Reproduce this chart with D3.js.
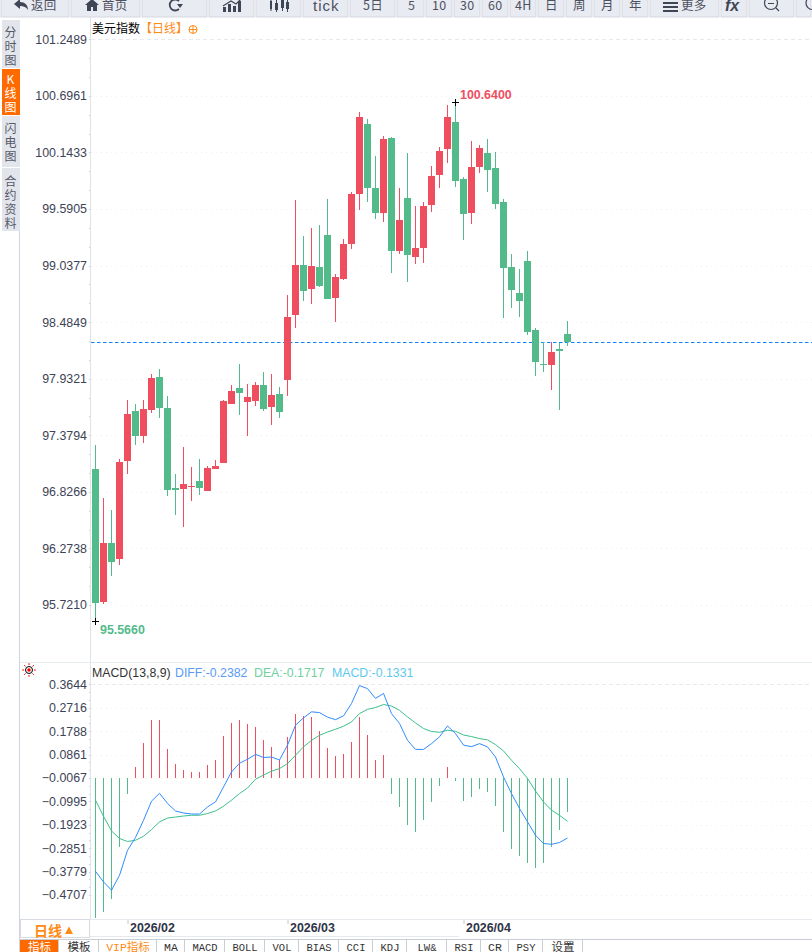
<!DOCTYPE html>
<html>
<head>
<meta charset="utf-8">
<script src="https://cdnjs.cloudflare.com/ajax/libs/d3/7.9.0/d3.min.js"></script>
<style>
  html, body { margin: 0; padding: 0; background: #fff; overflow: hidden; }
  text { font-family: "Liberation Sans", Arial, "Noto Sans CJK SC", sans-serif; }
  .cjk { font-family: "Noto Sans CJK SC", sans-serif; }
  .mono { font-family: "Liberation Mono", "Noto Sans CJK SC", monospace; }
  .side { font-family: "Noto Sans CJK SC", sans-serif; writing-mode: vertical-rl; text-orientation: upright; }
</style>
</head>
<body>
<div id="chart"></div>
<script>
// daily candles
const opens = [97.050,95.753,96.327,96.170,97.131,97.617,97.375,97.629,97.949,97.646,
  96.864,96.857,96.874,96.933,96.838,97.050,97.111,97.688,97.841,97.708,
  97.717,97.871,97.659,97.783,97.923,98.555,99.043,98.812,99.024,99.337,
  98.724,98.909,99.251,99.740,100.421,99.796,99.554,100.284,99.183,99.698,
  99.124,99.212,99.633,99.926,100.180,100.441,99.884,99.554,100.004,100.138,
  99.991,99.659,99.024,98.770,99.082,98.408,98.076,98.069,98.223,98.369];
const closes = [95.743,96.327,96.144,97.118,97.587,97.375,97.636,97.939,97.649,96.848,
  96.848,96.903,96.884,96.864,97.060,97.079,97.714,97.812,97.793,97.753,
  97.871,97.636,97.773,97.610,98.535,99.043,98.792,99.034,98.838,98.714,
  98.926,99.249,99.737,100.490,99.799,99.554,100.275,99.183,99.483,99.144,
  99.209,99.620,99.913,100.157,100.490,99.867,99.545,100.001,100.187,99.975,
  99.642,99.017,98.802,98.695,98.392,98.098,98.066,98.193,98.206,98.288];
const highs = [97.284,96.766,96.649,97.148,97.724,97.685,97.724,97.978,98.027,97.763,
  97.001,97.265,97.069,97.148,97.079,97.138,97.724,97.871,98.076,97.881,
  97.900,97.998,97.978,97.851,98.750,99.679,99.327,99.405,99.434,99.688,
  98.955,99.297,99.757,100.538,100.470,100.109,100.304,100.294,99.796,100.138,
  99.620,99.659,100.011,100.196,100.607,100.640,99.903,100.255,100.216,100.275,
  100.148,99.688,99.151,99.004,99.180,98.428,98.288,98.288,98.284,98.496];
const lows = [95.566,95.734,96.007,96.115,97.004,97.287,97.307,97.600,97.551,96.789,
  96.603,96.486,96.740,96.799,96.838,97.050,97.111,97.688,97.580,97.375,
  97.668,97.620,97.483,97.551,97.766,98.431,98.695,98.665,98.828,98.714,
  98.489,98.897,99.203,99.584,99.662,99.496,99.467,98.968,99.154,98.877,
  99.056,99.066,99.564,99.799,100.043,99.809,99.291,99.447,99.945,99.760,
  99.594,98.525,98.626,98.538,98.362,97.962,98.001,97.825,97.629,98.255];

// MACD panel series
const macdValues = [-0.556,-0.531,-0.480,-0.273,-0.063,0.042,0.138,0.229,0.229,0.114,
  0.054,0.031,0.023,0.023,0.050,0.070,0.165,0.217,0.229,0.213,
  0.201,0.149,0.122,0.070,0.161,0.252,0.245,0.241,0.185,0.118,
  0.086,0.094,0.141,0.241,0.169,0.070,0.090,-0.065,-0.115,-0.186,
  -0.214,-0.166,-0.095,-0.033,0.042,-0.012,-0.091,-0.075,-0.044,-0.055,
  -0.111,-0.214,-0.281,-0.309,-0.337,-0.357,-0.337,-0.273,-0.206,-0.1331];
const diffValues = [-0.370,-0.412,-0.445,-0.386,-0.287,-0.236,-0.168,-0.092,-0.061,-0.101,
  -0.131,-0.139,-0.143,-0.143,-0.115,-0.095,-0.036,0.024,0.058,0.074,
  0.093,0.081,0.083,0.071,0.130,0.209,0.238,0.262,0.259,0.241,
  0.231,0.246,0.295,0.366,0.354,0.315,0.335,0.255,0.216,0.149,
  0.113,0.113,0.136,0.163,0.206,0.176,0.130,0.124,0.136,0.123,
  0.083,0.004,-0.062,-0.121,-0.174,-0.227,-0.260,-0.263,-0.256,-0.2382];
const deaValues = [-0.088,-0.152,-0.210,-0.240,-0.252,-0.247,-0.231,-0.205,-0.174,-0.159,
  -0.155,-0.151,-0.148,-0.148,-0.141,-0.131,-0.112,-0.088,-0.062,-0.040,
  -0.005,0.011,0.027,0.037,0.057,0.090,0.123,0.149,0.169,0.182,
  0.193,0.205,0.222,0.255,0.272,0.279,0.291,0.285,0.268,0.242,
  0.218,0.196,0.184,0.181,0.189,0.185,0.170,0.164,0.156,0.151,
  0.132,0.107,0.070,0.037,-0.002,-0.052,-0.095,-0.128,-0.148,-0.1717];

const priceTicks = [101.2489,100.6961,100.1433,99.5905,99.0377,98.4849,97.9321,97.3794,96.8266,96.2738,95.7210];
const macdTicks = [0.3644,0.2716,0.1788,0.0861,-0.0067,-0.0995,-0.1923,-0.2851,-0.3779,-0.4707];
const monthStarts = [4, 24, 46];
const monthLabels = ['2026/02', '2026/03', '2026/04'];

const sideTabs = ['分时图','K线图','闪电图','合约资料'];
const bottomTabs = ['指标','模板','VIP指标','MA','MACD','BOLL','VOL','BIAS','CCI','KDJ','LW&','RSI','CR','PSY','设置'];

const width = 812, height = 952;
const red = '#ef4e5f', green = '#53bb8a';
const axisColor = '#3d4356';

const svg = d3.select('#chart').append('svg')
  .attr('width', width).attr('height', height)
  .style('display', 'block');

const x = d3.scaleLinear().domain([0, opens.length - 1]).range([95.5, 567.5]);
const y = d3.scaleLinear().domain([101.2489, 95.7210]).range([39.3, 605]);
const yMacd = d3.scaleLinear().domain([0.3644, -0.4707]).range([684.3, 895]);
// the vendor's axis labels sit one step of -0.0067 off the real zero line
const macdY = v => yMacd(v - 0.0067);

// ---- gridlines
function drawGrid(scale, ticks) {
  const g = svg.append('g');
  g.selectAll('line').data(ticks).join('line')
    .attr('x1', 91).attr('x2', width)
    .attr('y1', d => Math.round(scale(d)) + 0.5)
    .attr('y2', d => Math.round(scale(d)) + 0.5)
    .attr('stroke', (d, i) => i === 0 ? '#e8eaee' : '#eef0f2')
    .attr('stroke-dasharray', (d, i) => i === 0 ? '4,3' : '1,4');

  // small dots between labels along the axis
  const minor = [];
  for (let i = 0; i < ticks.length - 1; i++) {
    for (let j = 0; j < 3; j++) minor.push(ticks[i] + (ticks[i + 1] - ticks[i]) * j / 3);
  }
  minor.push(ticks[ticks.length - 1]);
  g.append('g').selectAll('rect').data(minor).join('rect')
    .attr('x', 89).attr('width', 1).attr('height', 1)
    .attr('y', d => Math.round(scale(d)))
    .attr('fill', '#c9ced6');
}
drawGrid(y, priceTicks);
drawGrid(yMacd, macdTicks);

// ---- frame lines
const frame = svg.append('g').attr('stroke', '#dfe3e8').attr('shape-rendering', 'crispEdges');
frame.append('line').attr('x1', 90.5).attr('x2', 90.5).attr('y1', 17).attr('y2', 919);
frame.append('line').attr('x1', 19.5).attr('x2', 19.5).attr('y1', 231).attr('y2', 952).attr('stroke', '#cfd5dc');
frame.append('line').attr('x1', 20).attr('x2', width).attr('y1', 662.5).attr('y2', 662.5).attr('stroke', '#e6ecee');
frame.append('line').attr('x1', 20).attr('x2', width).attr('y1', 919.5).attr('y2', 919.5).attr('stroke', '#e6e9ed');

// ---- price axis
const priceAxis = d3.axisLeft(y).tickValues(priceTicks).tickSize(0).tickPadding(0).tickFormat(d3.format('.4f'));
svg.append('g').attr('transform', 'translate(87,0)').call(priceAxis)
  .call(g => g.select('.domain').remove())
  .call(g => g.selectAll('text').attr('fill', axisColor).style('font-size', '12.4px')
    .style('font-family', '"Liberation Sans", Arial, sans-serif'));

const macdAxis = d3.axisLeft(yMacd).tickValues(macdTicks).tickSize(0).tickPadding(0).tickFormat(d3.format('.4f'));
svg.append('g').attr('transform', 'translate(87,0)').call(macdAxis)
  .call(g => g.select('.domain').remove())
  .call(g => g.selectAll('text').attr('fill', axisColor).style('font-size', '12.4px')
    .style('font-family', '"Liberation Sans", Arial, sans-serif'));

// ---- current price line
const lastClose = closes[closes.length - 1];
svg.append('line')
  .attr('x1', 91).attr('x2', width)
  .attr('y1', Math.round(y(lastClose)) + 0.5).attr('y2', Math.round(y(lastClose)) + 0.5)
  .attr('stroke', '#0a84ff').attr('stroke-dasharray', '3.5,2.5');

// ---- candles
const candles = d3.range(opens.length).map(i => ({
  i, open: opens[i], close: closes[i], high: highs[i], low: lows[i],
  color: closes[i] >= opens[i] ? red : green
}));
const candle = svg.append('g').attr('shape-rendering', 'crispEdges')
  .selectAll('g').data(candles).join('g');
candle.append('rect')
  .attr('x', d => x(d.i) - 0.5).attr('width', 1)
  .attr('y', d => Math.round(y(d.high)))
  .attr('height', d => Math.round(y(d.low)) - Math.round(y(d.high)))
  .attr('fill', d => d.color);
candle.append('rect')
  .attr('x', d => x(d.i) - 3.5).attr('width', 7)
  .attr('y', d => Math.round(y(Math.max(d.open, d.close))))
  .attr('height', d => Math.max(1, Math.round(y(Math.min(d.open, d.close))) - Math.round(y(Math.max(d.open, d.close)))))
  .attr('fill', d => d.color);

// ---- high and low markers
const hiIndex = d3.maxIndex(highs);
const loIndex = d3.minIndex(lows);
[[hiIndex, highs[hiIndex]], [loIndex, lows[loIndex]]].forEach(([i, v]) => {
  const cx = x(i), cy = Math.round(y(v)) + 0.5;
  svg.append('path').attr('stroke', '#000').attr('fill', 'none').attr('shape-rendering', 'crispEdges')
    .attr('d', `M${cx - 3.5},${cy}H${cx + 3.5}M${cx},${cy - 3.5}V${cy + 3.5}`);
});
svg.append('text').attr('x', x(hiIndex) + 4.5).attr('y', y(highs[hiIndex]) - 3)
  .attr('fill', red).attr('font-weight', 'bold').attr('font-size', 12.4)
  .text(d3.format('.4f')(highs[hiIndex]));
svg.append('text').attr('x', x(loIndex) + 4.5).attr('y', y(lows[loIndex]) + 13)
  .attr('fill', green).attr('font-weight', 'bold').attr('font-size', 12.4)
  .text(d3.format('.4f')(lows[loIndex]));

// ---- chart title
const title = svg.append('text').attr('class', 'cjk').attr('x', 92).attr('y', 33).attr('font-size', 12);
title.append('tspan').attr('fill', '#000').text('美元指数');
title.append('tspan').attr('fill', '#ff8a14').text('【日线】');
svg.append('circle').attr('cx', 193).attr('cy', 29.5).attr('r', 4).attr('fill', 'none').attr('stroke', '#ff8a14');
svg.append('path').attr('d', 'M189,29.5H197M193,25.5V33.5').attr('stroke', '#ff8a14').attr('fill', 'none');

// ---- MACD bars and lines
svg.append('g').attr('shape-rendering', 'crispEdges')
  .selectAll('rect').data(macdValues).join('rect')
  .attr('x', (d, i) => x(i) - 0.5).attr('width', 1)
  .attr('y', d => Math.round(Math.min(macdY(d), macdY(0))))
  .attr('height', d => Math.abs(Math.round(macdY(d)) - Math.round(macdY(0))))
  .attr('fill', d => d >= 0 ? red : green);

const macdLine = d3.line().x((d, i) => x(i)).y(d => macdY(d));
svg.append('path').datum(deaValues).attr('d', macdLine).attr('fill', 'none').attr('stroke', '#3cc08a');
svg.append('path').datum(diffValues).attr('d', macdLine).attr('fill', 'none').attr('stroke', '#2f8cff');

const macdTitle = svg.append('g').attr('font-size', 12.3);
macdTitle.append('text').attr('x', 92).attr('y', 677).attr('fill', '#333').text('MACD(13,8,9)');
macdTitle.append('text').attr('x', 175).attr('y', 677).attr('fill', '#5a9bf5').text('DIFF:-0.2382');
macdTitle.append('text').attr('x', 254).attr('y', 677).attr('fill', '#6fcf9f').text('DEA:-0.1717');
macdTitle.append('text').attr('x', 332).attr('y', 677).attr('fill', '#5ec8f0').text('MACD:-0.1331');

// small red indicator icon
const sun = svg.append('g').attr('transform', 'translate(29,670)');
sun.append('circle').attr('r', 3.5).attr('fill', '#fff').attr('stroke', '#000');
sun.append('circle').attr('r', 1.8).attr('fill', '#f00');
d3.range(8).forEach(k => {
  const a = k * Math.PI / 4;
  sun.append('line').attr('x1', 5 * Math.cos(a)).attr('y1', 5 * Math.sin(a))
    .attr('x2', 6.8 * Math.cos(a)).attr('y2', 6.8 * Math.sin(a)).attr('stroke', '#f00');
});

// ---- month axis
const monthAxis = d3.axisBottom(x).tickValues(monthStarts).tickSize(4).tickPadding(0)
  .tickFormat((d, i) => monthLabels[i]);
svg.append('g').attr('transform', 'translate(0,920)').call(monthAxis)
  .call(g => g.select('.domain').remove())
  .call(g => g.selectAll('line').attr('stroke', '#c4c9d0'))
  .call(g => g.selectAll('text')
    .attr('text-anchor', 'start').attr('x', 2).attr('y', 3).attr('dy', '0.71em')
    .attr('fill', '#2f3446').attr('font-weight', 'bold').style('font-size', '12.4px')
    .style('font-family', '"Liberation Sans", Arial, sans-serif'));
svg.append('line').attr('x1', 90).attr('x2', 459).attr('y1', 936.5).attr('y2', 936.5).attr('stroke', '#e6e9ed');

// ---- 日线 box
svg.append('rect').attr('x', 20.5).attr('y', 919.5).attr('width', 69).attr('height', 18)
  .attr('fill', '#fff').attr('stroke', '#d8dce2');
svg.append('text').attr('class', 'cjk').attr('x', 34).attr('y', 935.5).attr('font-size', 14)
  .attr('font-weight', 'bold').attr('fill', '#ff8a14').text('日线');
svg.append('path').attr('d', 'M65,934L69,926.5L73,934Z').attr('fill', '#ff8a14');

// ---- bottom tabs
const bottomEdges = [20,59,99,157,185,225,265,299,339,373,407,447,481,509,543,583];
svg.append('line').attr('x1', 20).attr('x2', width).attr('y1', 939.5).attr('y2', 939.5).attr('stroke', '#c9ced5');
bottomTabs.forEach((name, i) => {
  const l = bottomEdges[i], r = bottomEdges[i + 1];
  svg.append('rect').attr('x', l).attr('y', 940).attr('width', r - l).attr('height', 12)
    .attr('fill', i === 0 ? '#ff6a00' : '#fff');
  svg.append('line').attr('x1', r - 0.5).attr('x2', r - 0.5).attr('y1', 940).attr('y2', 952).attr('stroke', '#c9ced5');
  svg.append('text').attr('class', 'mono').attr('x', (l + r) / 2).attr('y', 951)
    .attr('text-anchor', 'middle').attr('font-size', name.length > 2 && i !== 2 ? 10.5 : 11.5)
    .attr('fill', i === 0 ? '#fff' : i === 2 ? '#ff8a14' : '#333').text(name);
});

// ---- top toolbar
const toolbarEdges = [0,70,141,208,255,302,349,396,425,453,481,509,537,565,593,621,649,720,748,795,812];
const toolbarText = [[31,'返回'],[102,'首页'],null,null,null,[313,'tick'],[363,'5日'],[408,'5'],[432,'10'],[460,'30'],[488,'60'],
  [515,'4H'],[545,'日'],[573,'周'],[601,'月'],[629,'年'],[681,'更多'],null,null,null];
toolbarEdges.slice(0, -1).forEach((l, i) => {
  const r = toolbarEdges[i + 1];
  svg.append('rect').attr('x', l + 1).attr('y', -2).attr('width', r - l - 2).attr('height', 19)
    .attr('fill', '#e9ebf2').attr('stroke', '#d3d7df');
  if (toolbarText[i]) {
    const isTick = toolbarText[i][1] === 'tick';
    svg.append('text').attr('x', toolbarText[i][0]).attr('y', isTick ? 11 : 10)
      .attr('class', isTick ? null : 'cjk')
      .attr('font-size', isTick ? 15 : 12.5).attr('fill', '#4d5160')
      .attr('letter-spacing', isTick ? 1 : 0.2).text(toolbarText[i][1]);
  }
});
const icon = '#3f4656';
svg.append('path').attr('d', 'M14,4L20,-1V2C25,2 28,5 28,10C26,7 24,6 20,6V9Z').attr('fill', icon);
svg.append('path').attr('d', 'M85,5L92,-1L99,5H97V11H93V7H91V11H87V5Z').attr('fill', icon);
svg.append('path').attr('d', 'M179,1A5.5,5.5 0 1,0 179,9').attr('fill', 'none').attr('stroke', icon).attr('stroke-width', 1.8);
svg.append('path').attr('d', 'M177,4H183L180,8Z').attr('fill', icon);
svg.append('path').attr('d', 'M223,12V7H226V12ZM228,12V4H231V12ZM233,12V6H236V12ZM238,12V1H241V12Z').attr('fill', icon);
svg.append('path').attr('d', 'M223,6L231,1L236,4L241,-1').attr('fill', 'none').attr('stroke', icon).attr('stroke-width', 1.2);
svg.append('path').attr('d', 'M270,1H272V9H270ZM275,3H278V10H275ZM281,0H284V8H281ZM286,2H289V9H286Z').attr('fill', icon);
svg.append('path').attr('d', 'M276.5,0V12M282.5,-1V11M287.5,0V12M271,0V11').attr('stroke', icon).attr('fill', 'none');
svg.append('path').attr('d', 'M663,3H678M663,7H678M663,11H678').attr('stroke', icon).attr('stroke-width', 2).attr('fill', 'none');
svg.append('text').attr('x', 725).attr('y', 11).attr('font-size', 16).attr('font-weight', 'bold')
  .attr('font-style', 'italic').attr('fill', icon).text('fx');
svg.append('circle').attr('cx', 771).attr('cy', 3).attr('r', 6.5).attr('fill', 'none').attr('stroke', icon).attr('stroke-width', 1.2);
svg.append('path').attr('d', 'M768,3.5H774M776,8L779,11').attr('stroke', icon).attr('stroke-width', 1.2);
svg.append('circle').attr('cx', 812.5).attr('cy', 3).attr('r', 6.5).attr('fill', 'none').attr('stroke', icon).attr('stroke-width', 1.2);

// ---- side tabs
const sideBoxes = [[20, 48], [69, 46], [116, 51], [168, 63]];
const sideTextTop = [26, 73, 122, 175];
sideTabs.forEach((name, i) => {
  svg.append('rect').attr('x', 2).attr('y', sideBoxes[i][0]).attr('width', 18).attr('height', sideBoxes[i][1])
    .attr('fill', i === 1 ? '#ff6a00' : '#e3e5ed');
  svg.append('text').attr('class', 'side').attr('x', 10.5).attr('y', sideTextTop[i])
    .attr('font-size', 12).attr('letter-spacing', 2)
    .attr('fill', i === 1 ? '#fff' : '#555a66').text(name);
});
</script>
</body>
</html>
